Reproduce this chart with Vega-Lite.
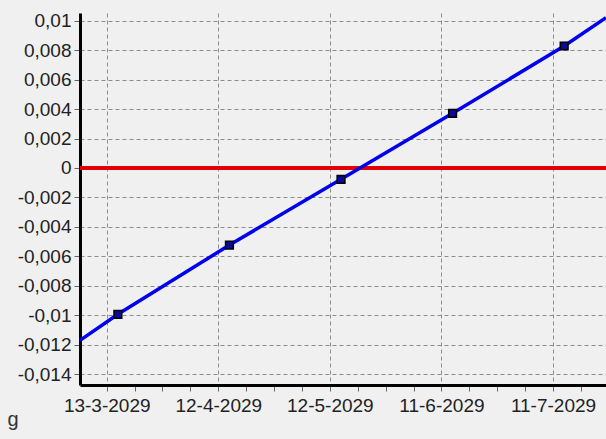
{
  "$schema": "https://vega.github.io/schema/vega-lite/v6.json",
  "width": 526,
  "height": 372,
  "autosize": "none",
  "padding": {"left": 80, "top": 13, "right": 0, "bottom": 54},
  "background": "#f0f0f0",
  "config": {
    "view": {"stroke": null, "fill": "#f0f0f0"},
    "font": "Liberation Sans",
    "axis": {
      "domainColor": "#000000",
      "domainWidth": 3,
      "tickColor": "#666666",
      "tickWidth": 1,
      "tickSize": 6,
      "labelFont": "Liberation Sans",
      "labelFontSize": 19,
      "labelColor": "#222222",
      "gridColor": "#8c8c8c",
      "gridDash": [4, 3],
      "gridWidth": 1
    }
  },
  "data": {
    "values": [
      {"date": "2029-03-05T19:40:00", "value": -0.0117, "kind": "fit"},
      {"date": "2029-03-16T00:00:00", "value": -0.00993, "kind": "point"},
      {"date": "2029-04-15T00:00:00", "value": -0.00523, "kind": "point"},
      {"date": "2029-05-15T00:00:00", "value": -0.00077, "kind": "point"},
      {"date": "2029-06-14T00:00:00", "value": 0.00371, "kind": "point"},
      {"date": "2029-07-14T00:00:00", "value": 0.00828, "kind": "point"},
      {"date": "2029-07-25T06:00:00", "value": 0.0102, "kind": "fit"}
    ]
  },
  "encoding": {
    "x": {
      "field": "date",
      "type": "temporal",
      "scale": {
        "domain": [
          {"year": 2029, "month": 3, "date": 5, "hours": 19, "minutes": 40},
          {"year": 2029, "month": 7, "date": 25, "hours": 6}
        ]
      },
      "axis": {
        "title": "g",
        "titleX": -73,
        "titleY": 40,
        "titleAlign": "left",
        "titleBaseline": "alphabetic",
        "titleFontSize": 20,
        "titleFontWeight": "normal",
        "titleColor": "#333333",
        "titleFont": "Liberation Sans",
        "labelPadding": 5,
        "labelFlush": false,
        "labelOverlap": false,
        "values": [
          {"year": 2029, "month": 3, "date": 13},
          {"year": 2029, "month": 3, "date": 20, "hours": 12},
          {"year": 2029, "month": 3, "date": 28},
          {"year": 2029, "month": 4, "date": 4, "hours": 12},
          {"year": 2029, "month": 4, "date": 12},
          {"year": 2029, "month": 4, "date": 19, "hours": 12},
          {"year": 2029, "month": 4, "date": 27},
          {"year": 2029, "month": 5, "date": 4, "hours": 12},
          {"year": 2029, "month": 5, "date": 12},
          {"year": 2029, "month": 5, "date": 19, "hours": 12},
          {"year": 2029, "month": 5, "date": 27},
          {"year": 2029, "month": 6, "date": 3, "hours": 12},
          {"year": 2029, "month": 6, "date": 11},
          {"year": 2029, "month": 6, "date": 18, "hours": 12},
          {"year": 2029, "month": 6, "date": 26},
          {"year": 2029, "month": 7, "date": 3, "hours": 12},
          {"year": 2029, "month": 7, "date": 11},
          {"year": 2029, "month": 7, "date": 18, "hours": 12}
        ],
        "labelExpr": "date(datum.value) >= 11 && date(datum.value) <= 13 ? timeFormat(datum.value, '%-d-%-m-%Y') : ''",
        "grid": true,
        "gridOpacity": {"condition": {"test": "date(datum.value) >= 11 && date(datum.value) <= 13", "value": 1}, "value": 0}
      }
    },
    "y": {
      "field": "value",
      "type": "quantitative",
      "scale": {"domain": [-0.01473, 0.01052], "nice": false, "zero": false},
      "axis": {
        "title": null,
        "values": [-0.014, -0.012, -0.01, -0.008, -0.006, -0.004, -0.002, 0, 0.002, 0.004, 0.006, 0.008, 0.01],
        "labelExpr": "replace(replace(format(datum.value, '.3~f'), '\u2212', '-'), '.', ',')",
        "labelPadding": 3,
        "grid": true
      }
    }
  },
  "layer": [
    {
      "mark": {"type": "rule", "color": "#e00000", "strokeWidth": 3},
      "encoding": {"y": {"datum": 0}, "x": null}
    },
    {
      "mark": {"type": "line", "color": "#0000ee", "strokeWidth": 3.5},
      "encoding": {}
    },
    {
      "transform": [{"filter": "datum.kind == 'point'"}],
      "mark": {"type": "square", "size": 60, "fill": "#0a0a9a", "stroke": "#000000", "strokeWidth": 1.5, "opacity": 1}
    }
  ]
}
